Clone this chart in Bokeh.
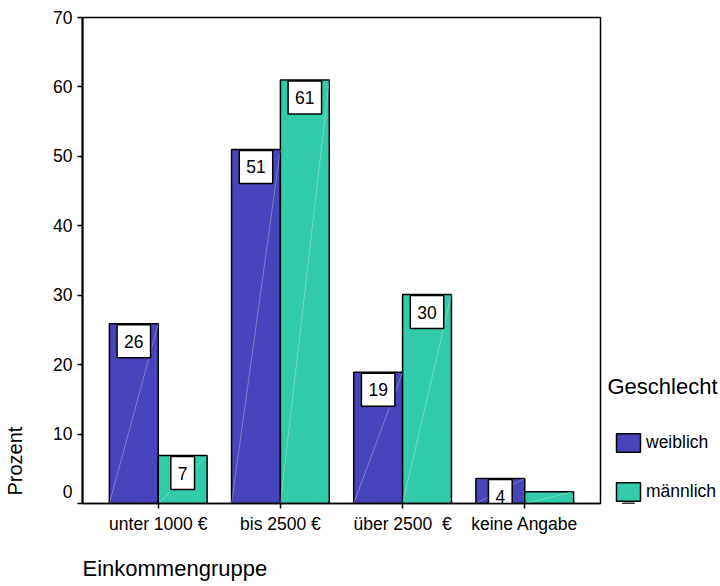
import math
from bokeh.plotting import figure
from bokeh.layouts import row
from bokeh.models import (ColumnDataSource, Legend, LegendItem, Title, Label, Range1d,
                          FixedTicker)
from bokeh.core.properties import value
from bokeh.embed import file_html
from bokeh.resources import INLINE

categories = ["unter 1000 €", "bis 2500 €", "über 2500 \u00a0€", "keine Angabe"]
weiblich = [25.9, 51.0, 18.9, 3.6]
maennlich = [6.9, 61.0, 30.1, 1.7]
labels_w = ["26", "51", "19", "4"]
labels_m = ["7", "61", "30", ""]
y_ticks = [0, 10, 20, 30, 40, 50, 60, 70]
series_names = ["weiblich", "männlich"]

FONT = "Liberation Sans"
C_W = "#4844BC"
C_M = "#33CCAA"
BW = 0.4
FS = "17.5px"


def blank(fig):
    fig.xgrid.visible = False
    fig.ygrid.visible = False
    fig.outline_line_color = None
    fig.background_fill_color = "white"
    fig.border_fill_color = "white"


idx = list(range(len(categories)))
xw = [i - BW / 2 for i in idx]
xm = [i + BW / 2 for i in idx]

# left strip: y axis title
p0 = figure(width=30, height=586, output_backend="svg", toolbar_location=None,
            x_axis_location=None, y_axis_location=None,
            x_range=Range1d(0, 1), y_range=Range1d(0, 1),
            min_border_left=0, min_border_right=0, min_border_top=0, min_border_bottom=0)
blank(p0)
p0.add_layout(Label(x=14, y=8, x_units="screen", y_units="screen", text="Prozent",
                    angle=math.pi / 2, text_align="left", text_baseline="middle",
                    text_font=FONT, text_font_size="20px", text_color="black"))

# main chart
p = figure(width=575, height=586, output_backend="svg", toolbar_location=None,
           x_range=Range1d(-0.62, 3.62), y_range=Range1d(0, 70),
           min_border_left=52, min_border_top=17, min_border_bottom=83, min_border_right=5)
p.xgrid.visible = False
p.ygrid.visible = False
p.outline_line_color = "black"
p.outline_line_width = 1.5
p.background_fill_color = "white"
p.border_fill_color = "white"

src_w = ColumnDataSource(dict(x=xw, top=weiblich))
src_m = ColumnDataSource(dict(x=xm, top=maennlich))
p.vbar(x="x", top="top", bottom=0, width=BW, source=src_w, fill_color=C_W,
       line_color="black", line_width=1.5)
p.vbar(x="x", top="top", bottom=0, width=BW, source=src_m, fill_color=C_M,
       line_color="black", line_width=1.5)

# faint diagonal sheen inside bars
for xs, tops in ((xw, weiblich), (xm, maennlich)):
    p.segment(x0=[x - BW / 2 for x in xs], y0=[0] * len(xs),
              x1=[x + BW / 2 for x in xs], y1=tops,
              line_color="white", line_alpha=0.3, line_width=1)

# value labels
for xs, tops, labs in ((xw, weiblich, labels_w), (xm, maennlich, labels_m)):
    keep = [k for k, t in enumerate(labs) if t]
    s = ColumnDataSource(dict(x=[xs[k] for k in keep], y=[tops[k] for k in keep],
                              t=[labs[k] for k in keep]))
    p.text(x="x", y="y", text="t", source=s, text_align="center", text_baseline="top",
           text_font=value(FONT), text_font_size=FS, text_color="black",
           y_offset=1, background_fill_color="white", border_line_color="black",
           border_line_width=1.5, padding=(7, 10))

# axes
p.xaxis.ticker = FixedTicker(ticks=idx)
p.xaxis.major_label_overrides = {i: c for i, c in enumerate(categories)}
p.yaxis.ticker = FixedTicker(ticks=y_ticks)
p.yaxis.major_label_overrides = {0: "0\n "}
for ax in (p.xaxis[0], p.yaxis[0]):
    ax.major_label_text_font = FONT
    ax.major_label_text_font_size = FS
    ax.major_label_text_color = "black"
    ax.axis_line_color = "black"
    ax.major_tick_line_color = "black"
    ax.major_tick_in = 0
    ax.major_tick_out = 5
    ax.minor_tick_line_color = None
    ax.major_tick_line_width = 1.5
p.yaxis.axis_line_width = 2
p.xaxis.axis_line_width = 1.5
p.yaxis.major_label_standoff = 5
p.xaxis.major_label_standoff = 5
# invisible spacer label pushes the axis title further down
p.xaxis.axis_label = " "
p.xaxis.axis_label_standoff = 0
p.xaxis.axis_label_text_font_size = "10px"

p.add_layout(Title(text="Einkommengruppe", align="left", text_font=FONT,
                   text_font_size="22px", text_font_style="normal", text_color="black",
                   standoff=6), "below")

# right strip: legend (proxy bars lie outside the strip's frame, under the swatch edge)
p2 = figure(width=115, height=586, output_backend="svg", toolbar_location=None,
            x_axis_location=None, y_axis_location=None,
            x_range=Range1d(0, 1), y_range=Range1d(0, 1),
            min_border_left=0, min_border_right=0, min_border_top=0, min_border_bottom=0)
blank(p2)
lw = p2.vbar(x=[0.2], top=[-0.3], bottom=[-0.6], width=0.1, fill_color=C_W,
             line_color="black", line_width=1.5)
lm = p2.vbar(x=[0.2], top=[-0.3], bottom=[-0.6], width=0.1, fill_color=C_M,
             line_color="black", line_width=1.5)
legend = Legend(items=[LegendItem(label=series_names[0], renderers=[lw]),
                       LegendItem(label=series_names[1], renderers=[lm])],
                location=(8, 0), glyph_width=30, glyph_height=23, spacing=26,
                label_standoff=3, padding=0, margin=0, border_line_color=None,
                background_fill_alpha=0, label_text_font=FONT, label_text_font_size=FS,
                label_text_color="black", label_height=23)
p2.add_layout(legend)
p2.add_layout(Label(x=2, y=117, x_units="screen", y_units="screen", text="Geschlecht",
                    text_align="left", text_baseline="middle", text_font=FONT,
                    text_font_size="22px", text_color="black"))

layout = row(p0, p, p2, spacing=0)
html = file_html(layout, INLINE)
html = html.replace("<head>", "<head><style>html, body { overflow: hidden; }</style>", 1)
open("out.html", "w").write(html)
